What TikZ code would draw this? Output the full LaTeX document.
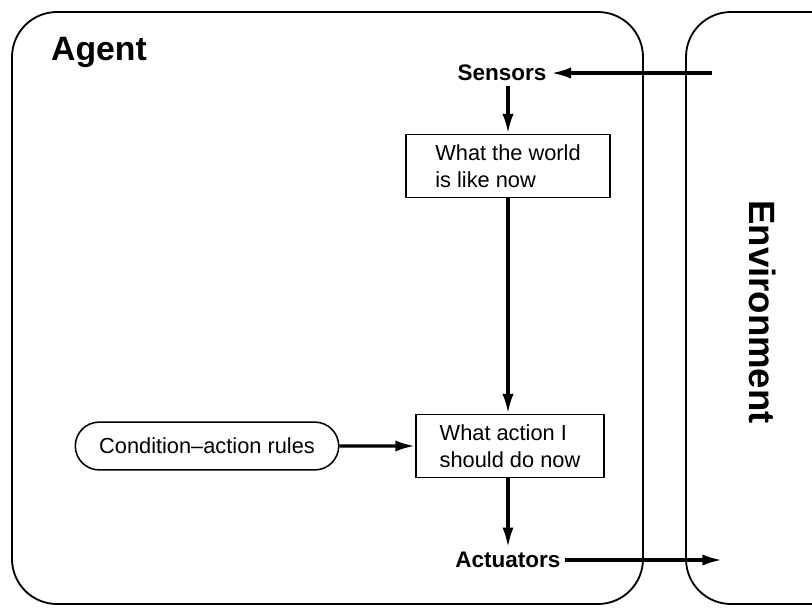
\documentclass[tikz,border=0pt]{standalone}
\usepackage{fontspec}
\setmainfont{Liberation Sans}
\usepackage{tikz}
\usetikzlibrary{arrows.meta,shapes.misc}

\tikzset{
  panel/.style={draw, line width=1.3pt, rounded corners=32pt},
  stateBox/.style={draw, line width=1.1pt, align=left, inner xsep=10pt, inner ysep=4pt,
    font=\fontsize{15.5}{19}\selectfont},
  ruleBox/.style={draw, rounded rectangle, line width=1.1pt, minimum width=194pt, minimum height=34pt,
    font=\fontsize{15.5}{19}\selectfont},
  port/.style={font=\fontsize{16}{18}\selectfont\bfseries},
  flow/.style={-{Latex[length=14pt,width=8pt]}, line width=2.2pt}
}

\begin{document}
\begin{tikzpicture}[x=0.025cm, y=-0.025cm]
\clip (0,0) rectangle (812,608);
\fill[white] (0,0) rectangle (812,608);
% agent and environment
\draw[panel] (12,12) rectangle (643,604);
\draw[panel] (686,12) rectangle (880,604);
\node[font=\fontsize{24}{28}\selectfont\bfseries] (agent) at (99,52) {Agent};
\node[font=\fontsize{26}{30}\selectfont\bfseries, rotate=-90] (env) at (763,312) {Environment};
% inside the agent
\node[port] (sensors) at (502,73) {Sensors};
\node[stateBox, minimum width=145pt, minimum height=45pt] (world) at (508,166) {What the world\\is like now};
\node[stateBox, minimum width=134pt, minimum height=45pt] (action) at (510,446) {What action I\\should do now};
\node[ruleBox] (rules) at (207,446) {Condition--action rules};
\node[port] (actuators) at (508,560) {Actuators};
\coordinate (envin) at (712,73);
\coordinate (envout) at (722,560);
% connectors
\draw[flow] (sensors.south -| world.north) -- (world.north);
\draw[flow] (world.south) -- (world.south |- action.north);
\draw[flow] (envin) -- (sensors);
\draw[flow] (rules) -- (action);
\draw[flow] (action.south -| actuators.north) -- (actuators);
\draw[flow] (actuators) -- (envout);
\end{tikzpicture}
\end{document}
